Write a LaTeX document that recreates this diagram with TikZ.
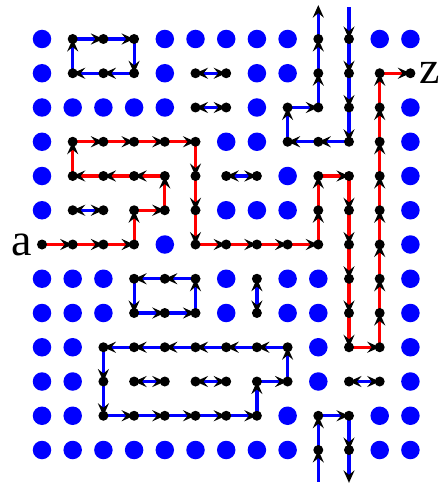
\documentclass[tikz,border=0pt]{standalone}
\usepackage{fontspec}
\setmainfont{Liberation Serif}
\usetikzlibrary{arrows.meta, positioning, backgrounds}
\tikzset{
  freedot/.style={circle, fill=blue, inner sep=0pt, minimum size=18.5pt},
  vtx/.style={circle, fill=black, inner sep=0pt, minimum size=10pt},
  bluelink/.style={->, draw=blue, line width=3.2pt},
  redlink/.style={->, draw=red, line width=3.2pt},
  bluepair/.style={<->, draw=blue, line width=3.2pt},
  lbl/.style={font=\fontsize{46}{46}\selectfont, inner sep=0pt},
  >={Stealth[length=12.5pt, width=11pt, inset=4.5pt, color=black]}
}
% one arrow per step along a list of grid vertices
\newcommand{\pathwalk}[3]{%
  \foreach \p [remember=\p as \q (initially #2)] in {#3}
    \draw[#1] (v\q.center) -- (v\p.center);}

\begin{document}
\begin{tikzpicture}[x=30.7pt, y=-34.25pt]
    \useasboundingbox (-42pt,39pt) rectangle (397pt,-448pt);

    % unused grid points
    \foreach \r/\cols in {0/{0,4,5,6,7,8,11,12}, 1/{0,4,7,8}, 2/{0,1,2,3,4,7,12},
        3/{0,6,7,12}, 4/{0,8,12}, 5/{0,6,7,8,12}, 6/{4,12}, 7/{0,1,2,6,8,9,12},
        8/{0,1,2,6,8,9,12}, 9/{0,1,9,12}, 10/{0,1,9,12}, 11/{0,1,8,11,12},
        12/{0,1,2,3,4,5,6,7,8,11,12}}
      \foreach \c in \cols
        \node[freedot] (d\c-\r) at (\c,\r) {};

    % vertices on the walks
    \foreach \r/\cols in {0/{1,2,3,9,10}, 1/{1,2,3,5,6,9,10,11,12}, 2/{5,6,8,9,10,11},
        3/{1,2,3,4,5,8,9,10,11}, 4/{1,2,3,4,5,6,7,9,10,11}, 5/{1,2,3,4,5,9,10,11},
        6/{0,1,2,3,5,6,7,8,9,10,11}, 7/{3,4,5,7,10,11}, 8/{3,4,5,7,10,11},
        9/{2,3,4,5,6,7,8,10,11}, 10/{2,3,4,5,6,7,8,10,11}, 11/{2,3,4,5,6,7,9,10},
        12/{9,10}}
      \foreach \c in \cols
        \node[vtx] (v\c-\r) at (\c,\r) {};

    \node[lbl, left=5pt of v0-6] (a) {a};
    \node[lbl, right=4pt of v12-1] (z) {z};

    \coordinate (top10) at (10,-0.92);
    \coordinate (top9)  at (9,-0.99);
    \coordinate (bot9)  at (9,12.93);
    \coordinate (bot10) at (10,12.96);

    \begin{scope}[on background layer]
      % red walk from a to z
      \pathwalk{redlink}{0-6}{1-6,2-6,3-6,3-5,4-5,4-4,3-4,2-4,1-4,1-3,2-3,3-3,4-3,5-3,
        5-4,5-5,5-6,6-6,7-6,8-6,9-6,9-5,9-4,10-4,10-5,10-6,10-7,10-8,10-9,11-9,
        11-8,11-7,11-6,11-5,11-4,11-3,11-2,11-1,12-1}
      % blue cycles
      \pathwalk{bluelink}{1-1}{1-0,2-0,3-0,3-1,2-1,1-1}
      \pathwalk{bluelink}{3-7}{3-8,4-8,5-8,5-7,4-7,3-7}
      \pathwalk{bluelink}{2-9}{2-10,2-11,3-11,4-11,5-11,6-11,7-11,7-10,8-10,8-9,
        7-9,6-9,5-9,4-9,3-9,2-9}
      % blue walks through the border
      \draw[bluelink] (top10) -- (v10-0.center);
      \pathwalk{bluelink}{10-0}{10-1,10-2,10-3,9-3,8-3,8-2,9-2,9-1,9-0}
      \draw[bluelink] (v9-0.center) -- (top9);
      \draw[bluelink] (bot9) -- (v9-12.center);
      \pathwalk{bluelink}{9-12}{9-11,10-11,10-12}
      \draw[bluelink] (v10-12.center) -- (bot10);
      % two-way pairs
      \foreach \s/\t in {5-1/6-1, 5-2/6-2, 1-5/2-5, 6-4/7-4, 7-7/7-8,
          3-10/4-10, 5-10/6-10, 10-10/11-10}
        \draw[bluepair] (v\s.center) -- (v\t.center);
    \end{scope}
\end{tikzpicture}
\end{document}
